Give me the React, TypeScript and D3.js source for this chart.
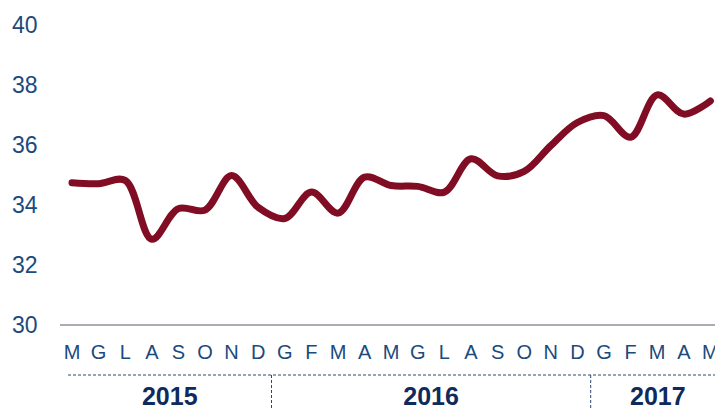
import React from "react";
import * as d3 from "d3";

const months = ["M","G","L","A","S","O","N","D","G","F","M","A","M","G","L","A","S","O","N","D","G","F","M","A","M"];
const values = [34.74,34.71,34.82,32.86,33.88,33.83,34.98,33.92,33.55,34.43,33.73,34.93,34.65,34.62,34.43,35.54,34.97,35.12,35.98,36.75,36.98,36.26,37.67,37.03,37.47];
const yTicks = [30,32,34,36,38,40];
const years = [
  { label: "2015", from: 0, to: 7 },
  { label: "2016", from: 8, to: 19 },
  { label: "2017", from: 20, to: 24 },
];

const W = 715, H = 409;
const FONT = "'Liberation Sans', Arial, sans-serif";

export default function App() {
  const idx = months.map((_, i) => i);
  const x = d3.scalePoint<number>().domain(idx).range([72, 710.4]);
  const step = x.step();
  const y = d3.scaleLinear().domain([30, 40]).range([325, 25]);
  const line = d3.line<number>().x((_, i) => x(i)!).y(d => y(d)).curve(d3.curveCatmullRom.alpha(0.5));

  const segStart = (i: number) => (i === 0 ? 68 : x(i)! - step / 2);
  const segEnd = (i: number) => (i === months.length - 1 ? 725 : x(i)! + step / 2);
  const seps = years.slice(1).map(yr => x(yr.from)! - step / 2);

  return (
    <svg width={W} height={H} style={{ position: "absolute", left: 0, top: 0, background: "#fff" }} fontFamily={FONT}>
      {yTicks.map(t => (
        <text key={t} x={37.5} y={y(t)} dy="0.36em" textAnchor="end" fontSize={23} fill="#1b4a7c">{t}</text>
      ))}
      <line x1={60} x2={715} y1={y(30)} y2={y(30)} stroke="#8c8f9c" strokeWidth={1.5} />
      {months.map((m, i) => (
        <text key={i} x={x(i)} y={358.5} textAnchor="middle" fontSize={20} fill="#1b4a7c">{m}</text>
      ))}
      <line x1={68} x2={715} y1={375} y2={375} stroke="#2b4679" strokeWidth={1} strokeDasharray="3,2" />
      {seps.map((s, i) => (
        <line key={i} x1={s} x2={s} y1={375} y2={409} stroke="#2b4679" strokeWidth={1} strokeDasharray="3,2" />
      ))}
      {years.map(yr => (
        <text key={yr.label} x={(segStart(yr.from) + segEnd(yr.to)) / 2} y={405} textAnchor="middle" fontSize={25} fontWeight="bold" fill="#0f2a5c">{yr.label}</text>
      ))}
      <path d={line(values) || ""} fill="none" stroke="#800d23" strokeWidth={7} strokeLinecap="round" strokeLinejoin="round" />
    </svg>
  );
}
